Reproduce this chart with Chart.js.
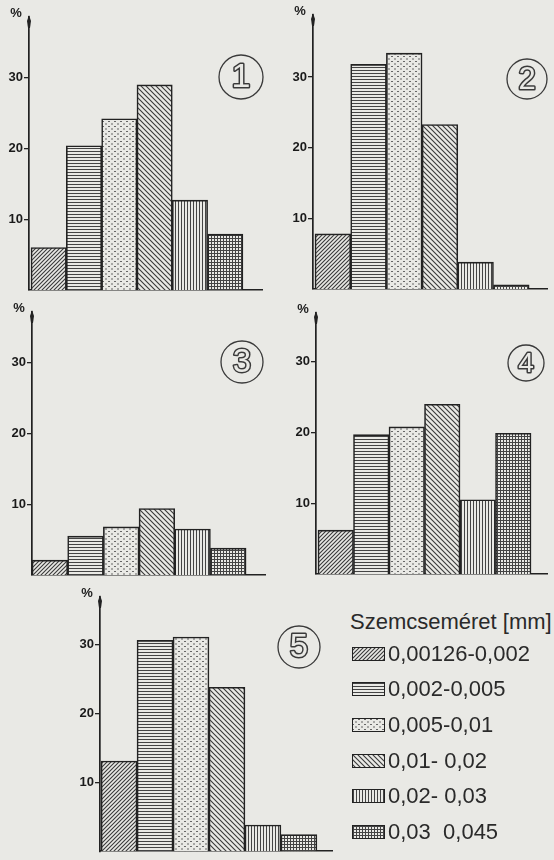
<!DOCTYPE html>
<html lang="hu">
<head>
<meta charset="UTF-8">
<title>Szemcseméret eloszlás</title>
<script src="https://cdn.jsdelivr.net/npm/chart.js"></script>
<style>
    body { margin: 0; background: #e9e9e5; }
    #page { position: relative; width: 554px; height: 860px; overflow: hidden; font-family: 'Liberation Sans', Arial, sans-serif; color: #2a2a2a; }
    #page canvas.panel { position: absolute; }
    #legend { position: absolute; left: 350px; top: 608px; }
    #legend .title { font-size: 22px; height: 28px; line-height: 28px; white-space: pre; }
    #legend .row { display: flex; align-items: center; height: 35.6px; font-size: 22px; white-space: pre; }
    #legend .row canvas { display: block; margin: 0 3px 0 2px; }
</style>
</head>
<body>
<div id="page">
    <div id="legend"></div>
</div>

<script>
    // --- data ---
    const sizeClasses = ['0,00126-0,002', '0,002-0,005', '0,005-0,01', '0,01- 0,02', '0,02- 0,03', '0,03  0,045'];
    const legendTitle = 'Szemcseméret [mm]';
    const sample1 = [6.0, 20.4, 24.2, 29.0, 12.7, 7.9];
    const sample2 = [7.8, 31.8, 33.4, 23.3, 3.8, 0.6];
    const sample3 = [2.1, 5.5, 6.8, 9.4, 6.5, 3.8];
    const sample4 = [6.2, 19.7, 20.8, 24.0, 10.5, 19.9];
    const sample5 = [13.1, 30.6, 31.1, 23.8, 3.8, 2.4];
    const sampleNames = ['1', '2', '3', '4', '5'];
    const yTicks = [10, 20, 30];
    const unitLabel = '%';

    const ink = '#222';
    const paper = '#e9e9e5';

    // page layout of each panel: canvas box, axis box, badge circle (x, y, r)
    const panels = [
        { values: sample1, box: [0, 0, 277, 300],     axis: { l: 29,  t: 17,  r: 262, b: 290 }, yMax: 38.6, xMin: -0.057, xMax: 6.54, badge: [241, 77, 22] },
        { values: sample2, box: [277, 0, 277, 300],   axis: { l: 313, t: 15,  r: 547, b: 289 }, yMax: 38.8, xMin: -0.056, xMax: 6.5,  badge: [527, 79, 20] },
        { values: sample3, box: [0, 300, 277, 285],   axis: { l: 32,  t: 312, r: 265, b: 575 }, yMax: 37.2, xMin: 0,      xMax: 6.53, badge: [242, 362, 21] },
        { values: sample4, box: [277, 300, 277, 285], axis: { l: 316, t: 313, r: 547, b: 574 }, yMax: 36.9, xMin: -0.056, xMax: 6.45, badge: [526, 363, 18] },
        { values: sample5, box: [40, 585, 300, 275],  axis: { l: 100, t: 597, r: 332, b: 859 }, yMax: 36.9, xMin: -0.03,  xMax: 6.42, badge: [299, 647, 21] }
    ];

    // hatch patterns, one per size class
    function makePattern(kind) {
        const sizes = { diagUp: [4, 4], horiz: [4, 3], dots: [6, 5], diagDown: [5, 5], vert: [3, 4], grid: [3, 3] };
        const [w, h] = sizes[kind];
        const c = document.createElement('canvas');
        c.width = w; c.height = h;
        const g = c.getContext('2d');
        g.fillStyle = paper;
        g.fillRect(0, 0, w, h);
        g.fillStyle = '#444';
        g.strokeStyle = '#3a3a3a';
        g.lineWidth = 1.1;
        if (kind === 'diagUp') {
            g.beginPath();
            g.moveTo(-1, 5); g.lineTo(5, -1);
            g.moveTo(-2, 2); g.lineTo(2, -2);
            g.moveTo(2, 6); g.lineTo(6, 2);
            g.stroke();
        } else if (kind === 'diagDown') {
            g.beginPath();
            g.moveTo(-1, -1); g.lineTo(6, 6);
            g.moveTo(-3, 2); g.lineTo(3, 8);
            g.moveTo(2, -3); g.lineTo(8, 3);
            g.stroke();
        } else if (kind === 'horiz') {
            g.fillRect(0, 1, w, 1);
        } else if (kind === 'vert') {
            g.fillRect(1, 0, 1, h);
        } else if (kind === 'dots') {
            g.fillStyle = '#666';
            g.fillRect(0, 1, 2, 1);
            g.fillRect(3, 3.5, 2, 1);
        } else if (kind === 'grid') {
            g.fillRect(0, 1, w, 1);
            g.fillRect(1, 0, 1, h);
        }
        return g.createPattern(c, 'repeat');
    }
    const patternKinds = ['diagUp', 'horiz', 'dots', 'diagDown', 'vert', 'grid'];
    const patterns = patternKinds.map(makePattern);

    // axis arrow, unit label and the circled sample number
    const decor = {
        id: 'decor',
        afterDraw(chart, args, opts) {
            const { ctx, chartArea: a } = chart;
            ctx.save();
            ctx.fillStyle = ink;
            ctx.beginPath();
            ctx.moveTo(a.left, a.top - 2);
            ctx.lineTo(a.left + 2, a.top + 4);
            ctx.lineTo(a.left + 1, a.top + 11);
            ctx.lineTo(a.left - 1, a.top + 11);
            ctx.lineTo(a.left - 2, a.top + 4);
            ctx.closePath();
            ctx.fill();

            ctx.font = 'bold 13px "Liberation Sans"';
            ctx.textAlign = 'center';
            ctx.textBaseline = 'middle';
            ctx.fillText(unitLabel, a.left - 13, a.top - 4);

            const [bx, by, r] = opts.badge;
            ctx.strokeStyle = '#3a3a3a';
            ctx.lineWidth = 1.3;
            ctx.beginPath();
            ctx.arc(bx, by, r, 0, Math.PI * 2);
            ctx.stroke();
            ctx.font = (r * 1.55).toFixed(0) + 'px "Liberation Sans"';
            ctx.lineWidth = 3;
            ctx.lineJoin = 'round';
            ctx.strokeText(opts.label, bx, by + 1);
            ctx.fillStyle = paper;
            ctx.fillText(opts.label, bx, by + 1);
            ctx.restore();
        }
    };

    const page = document.getElementById('page');

    panels.forEach((p, idx) => {
        const [x0, y0, w, h] = p.box;
        const a = p.axis;
        const canvas = document.createElement('canvas');
        canvas.className = 'panel';
        canvas.width = w;
        canvas.height = h;
        canvas.style.left = x0 + 'px';
        canvas.style.top = y0 + 'px';
        page.appendChild(canvas);

        new Chart(canvas, {
            type: 'bar',
            data: {
                datasets: [{
                    data: p.values.map((v, i) => ({ x: i + 0.5, y: v })),
                    backgroundColor: patterns,
                    borderColor: ink,
                    borderWidth: 1.6,
                    borderSkipped: 'bottom',
                    barPercentage: 1,
                    categoryPercentage: 1
                }]
            },
            options: {
                responsive: false,
                animation: false,
                events: [],
                layout: { padding: { left: 0, top: a.t - y0, right: x0 + w - a.r, bottom: y0 + h - a.b } },
                plugins: {
                    legend: { display: false },
                    tooltip: { enabled: false },
                    decor: { badge: [p.badge[0] - x0, p.badge[1] - y0, p.badge[2]], label: sampleNames[idx] }
                },
                scales: {
                    x: {
                        type: 'linear',
                        min: p.xMin,
                        max: p.xMax,
                        offset: false,
                        grid: { display: false },
                        ticks: { display: false },
                        border: { display: true, color: ink, width: 1.6 },
                        afterBuildTicks: s => { s.ticks = [0, 1, 2, 3, 4, 5, 6].map(v => ({ value: v })); },
                        afterFit: s => { s.height = 0; }
                    },
                    y: {
                        min: 0,
                        max: p.yMax,
                        afterBuildTicks: s => { s.ticks = yTicks.map(v => ({ value: v })); },
                        afterFit: s => { s.width = a.l - x0; },
                        grid: { drawOnChartArea: false, drawTicks: true, tickLength: 5, color: ink, lineWidth: 1.3 },
                        border: { display: true, color: ink, width: 1.7 },
                        ticks: { padding: 1, color: '#1a1a1a', font: { family: 'Liberation Sans', size: 13, weight: 'bold' } }
                    }
                }
            },
            plugins: [decor]
        });
    });

    // legend
    const legend = document.getElementById('legend');
    const title = document.createElement('div');
    title.className = 'title';
    title.textContent = legendTitle;
    legend.appendChild(title);
    sizeClasses.forEach((label, i) => {
        const row = document.createElement('div');
        row.className = 'row';
        const sw = document.createElement('canvas');
        sw.width = 33; sw.height = 14;
        const g = sw.getContext('2d');
        g.fillStyle = patterns[i];
        g.fillRect(0, 0, 33, 14);
        g.strokeStyle = ink;
        g.lineWidth = 1;
        g.strokeRect(0.5, 0.5, 32, 13);
        const span = document.createElement('span');
        span.textContent = label;
        row.appendChild(sw);
        row.appendChild(span);
        legend.appendChild(row);
    });
</script>
</body>
</html>
